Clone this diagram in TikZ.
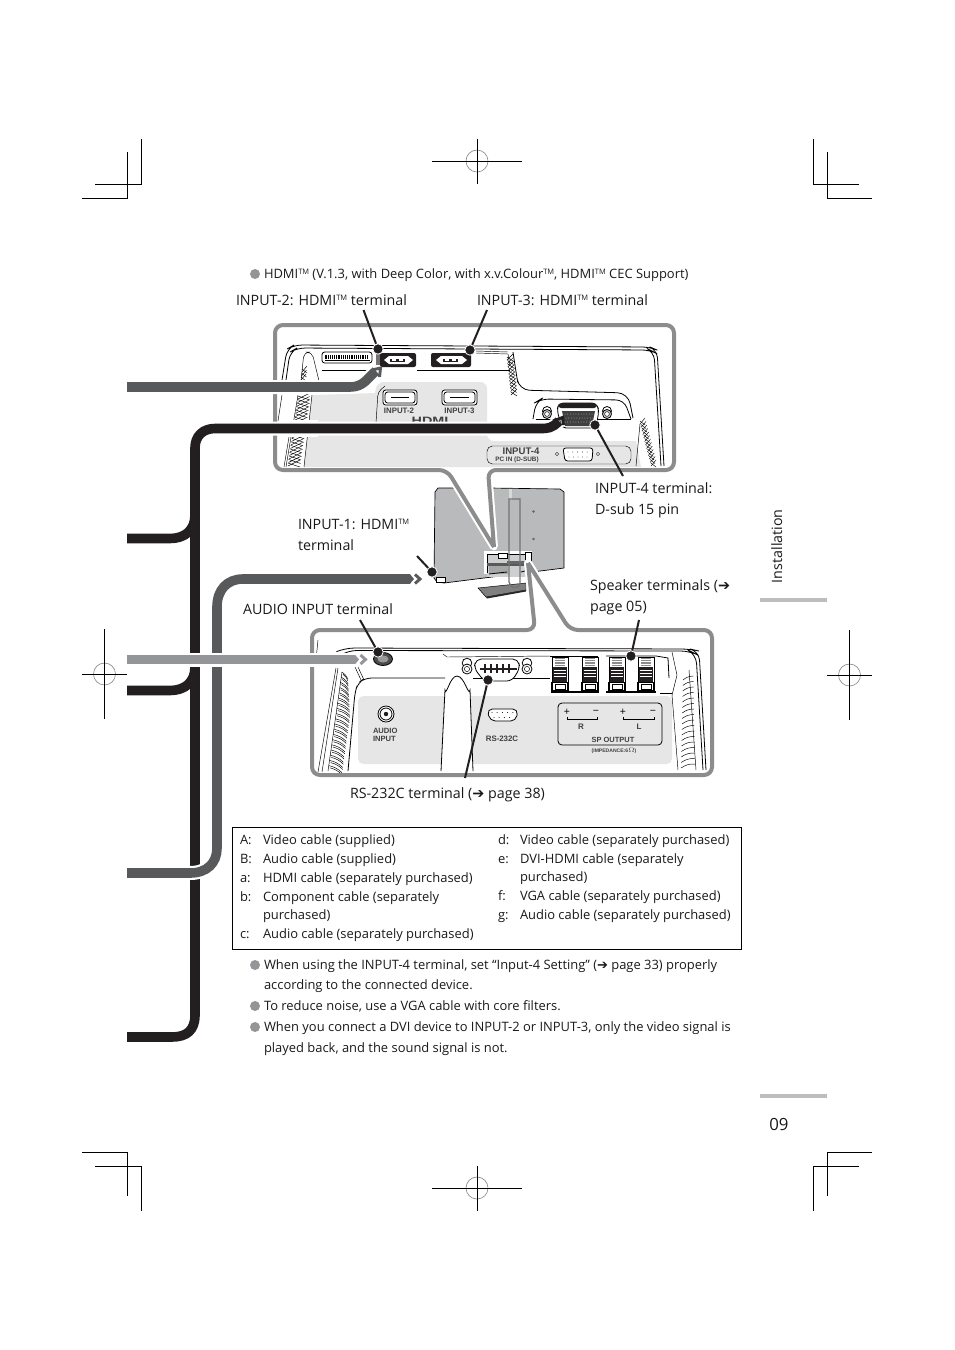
\documentclass[tikz,border=0pt]{standalone}
\usepackage{fontspec}
\setmainfont{Open Sans}
\newfontfamily\djv{DejaVu Sans}
\newfontfamily\panelfont{Liberation Sans}
\usetikzlibrary{calc}
\definecolor{cblack}{HTML}{231F20}
\definecolor{cdark}{HTML}{58595B}
\definecolor{clight}{HTML}{939598}
\definecolor{cframe}{HTML}{8C8C8C}
\definecolor{cpanel}{HTML}{E6E6E6}
\definecolor{ctv}{HTML}{B9BABC}
\definecolor{ctab}{HTML}{BCBDBF}
\newcommand{\TMk}{\raisebox{0.62ex}{\fontsize{5.6}{6}\selectfont TM}}
\newcommand{\Rarr}{{\djv\fontsize{10.8}{10}\selectfont ➔}}
\newcommand{\Rarrb}{{\djv\fontsize{9.8}{10}\selectfont ➔}}
\tikzset{
  x=0.75pt,y=-0.75pt,
  crop/.style={draw=black,line width=0.75pt},
  regc/.style={draw=black!45,line width=0.5pt},
  lab/.style={anchor=base west,inner sep=0pt,outer sep=0pt,font=\fontsize{10.7}{12}\selectfont,text=black!90},
  body/.style={anchor=base west,inner sep=0pt,outer sep=0pt,font=\fontsize{9.7}{12}\selectfont,text=black!90},
  ptxt/.style={anchor=base,inner sep=0pt,outer sep=0pt,font=\panelfont\bfseries\fontsize{5.9}{6}\selectfont,text=black!75},
  halo/.style={draw=white,line width=10.5pt,line join=round},
  cablew/.style={line width=7.2pt,line join=round},
  frameline/.style={draw=cframe,line width=3pt,rounded corners=6pt,line join=round},
  framehalo/.style={draw=white,line width=6pt,line join=round},
  leader/.style={draw=cblack,line width=1.5pt},
  ldot/.style={circle,fill=cblack,draw=white,line width=0.6pt,minimum size=7.8pt,inner sep=0pt},
  thin line/.style={draw=black,line width=0.6pt},
  fine/.style={draw=black,line width=0.35pt},
  bul/.style={circle,fill=clight,minimum size=7.5pt,inner sep=0pt},
  chev/.style={line width=2.2pt,line join=miter},
}
\newcommand{\hatchband}[6]{% x1 y1 x2 y2 n width
  \foreach \t in {0,...,#5}{
    \pgfmathsetmacro{\hx}{#1+(#3-#1)*\t/#5}
    \pgfmathsetmacro{\hy}{#2+(#4-#2)*\t/#5}
    \draw[fine] (\hx,\hy) -- ++(#6,-6);
    \draw[fine] (\hx,\hy-3) -- ++(#6,4);
  }
}
\newcommand{\term}[1]{% speaker terminal centred x
  \draw[fine,fill=white] (#1-8,657) rectangle (#1+8,691);
  \fill[black!45] (#1-5,658) rectangle (#1+5,667);
  \foreach \dy in {0,...,3}{\draw[white,line width=0.4pt] (#1-5,659.5+2.2*\dy) -- (#1+5,659.5+2.2*\dy);}
  \fill[cblack] (#1-7,667) rectangle (#1+7,682);
  \foreach \dy in {0,...,2}{\draw[white,line width=0.4pt] (#1-6,670+3.2*\dy) -- (#1+6,670+3.2*\dy);}
  \draw[black,line width=0.9pt,fill=white] (#1-8,682.5) rectangle (#1+8,691);
  \draw[thin line,fill=white] (#1-5,684.5) rectangle (#1+5,689);
}
\begin{document}
\begin{tikzpicture}
\useasboundingbox (0,0) rectangle (954,1350);
% ---- crop marks
\draw[crop] (141,139) -- (141,184) -- (95,184);
\draw[crop] (127,152) -- (127,198) -- (82,198);
\draw[crop] (813,139) -- (813,184) -- (859,184);
\draw[crop] (827,152) -- (827,198) -- (872,198);
\draw[crop] (82,1152) -- (127,1152) -- (127,1196);
\draw[crop] (95,1166) -- (141,1166) -- (141,1211);
\draw[crop] (813,1211) -- (813,1166) -- (859,1166);
\draw[crop] (827,1196) -- (827,1152) -- (872,1152);
\foreach \cx/\cy/\hl/\vl in {477/161/45/22.5,477/1188/45/22.5,104.5/674/22.5/45,849.5/675/22.5/45}{
  \draw[regc] (\cx,\cy) circle (11);
  \draw[crop] (\cx-\hl,\cy) -- (\cx+\hl,\cy);
  \draw[crop] (\cx,\cy-\vl) -- (\cx,\cy+\vl);
}
% ---- side tab
\fill[ctab] (760,598) rectangle (827,601.5);
\fill[ctab] (760,1094) rectangle (827,1097.5);
\node[lab,rotate=90] (tabtext) at (782,583) {Installation};
\node[anchor=base west,inner sep=0pt,font=\fontsize{12.6}{14}\selectfont,text=black!90] (pagenum) at (769,1130) {09};
% ---- television
\fill[ctv,draw=black,line width=0.5pt] (435,492) -- (438,488) -- (453,488) -- (490,488) -- (560,489) -- (564,492) -- (564,568) -- (444,583) -- (437,582) -- (434,578) -- cycle;
\draw[fine,fill=white] (436,577) rectangle (445,582);
\fill[black!60] (533.5,511.5) circle (1.3);
\fill[black!60] (533.5,539) circle (1.3);
\fill[black!15] (509,489) rectangle (512,500);
% rear recess
\fill[ctv!70] (487,553) rectangle (531,577);
\fill[white] (483.5,550.5) rectangle (532,553.5);
\fill[white] (483.5,550.5) rectangle (486.5,574);
\draw[thin line] (487,554) -- (487,573);
\draw[thin line] (487,554) -- (530,554);
\fill[black!65] (487,563) rectangle (525,566);
\fill[black!35] (489,566) rectangle (508,574);
\draw[thin line] (489,574) -- (507,572);
\draw[fine,fill=white] (498,553.5) rectangle (507,558);
\draw[thin line,fill=white] (525,552) rectangle (531.5,562);
\fill[black!60] (507,561) rectangle (528,564);
\draw[thin line] (521,572) -- (529,570);
% stand base
\draw[fine,fill=black!50] (478,588) -- (526,583) -- (526,590) -- (486,597) -- cycle;
\fill[black!85] (486,597) -- (526,590) -- (526,591.5) -- (487,598.5) -- cycle;
% stand neck
\draw[draw=black!55,line width=1pt] (509,499) -- (520,499) -- (520,583) .. controls (520,588) and (514,589) .. (511,586) -- (509,582) -- cycle;
% ---- frames' white fill
\coordinate (tapex) at (494,547);
\coordinate (bapex) at (528,563);
\path[fill=white,draw=white,line width=5pt,line join=round] (tapex) -- (488,470) -- (674,470) -- (674,325) -- (275,325) -- (275,470) -- (447,470) -- cycle;
\path[fill=white,draw=white,line width=5pt,line join=round] (bapex) -- (535,630) -- (312,630) -- (312,775) -- (712,775) -- (712,630) -- (570,630) -- cycle;
% panel grey
\fill[cpanel] (304,467) -- (312,395) -- (375,393) [rounded corners=5pt] -- (377,382) -- (487,382) -- (487,441)[sharp corners] -- (636,441) -- (641,467) -- cycle;
% outer lines
\draw[thin line,rounded corners=6pt] (282,380) -- (287,349) -- (294,345) -- (650,347) -- (657,350) -- (664,466);
\draw[thin line,rounded corners=6pt] (286,380) -- (290,352) -- (297,348) -- (650,350) -- (654,352) -- (661,466);
\draw[fine] (278,421) -- (282,395);
\draw[fine] (284,467) -- (289,437);
\draw[thin line] (322,370.5) -- (376,370.5);
\draw[thin line] (417,370.5) -- (510,370.5);
\draw[fine,rounded corners=4pt] (301,381) -- (304,352) -- (312,352) -- (319,381);
\hatchband{302}{372}{301}{380}{2}{5}
% left hatch
\draw[fine] (298,395) -- (286,467);
\draw[fine] (312,395) -- (304,467);
\hatchband{298}{399}{288}{466}{19}{12}
\fill[white] (285,420) rectangle (318,437);
% top connectors
\draw[thin line,fill=white,rounded corners=2pt] (322,352) rectangle (372,363);
\foreach \i in {0,...,23}{\draw[black,line width=0.6pt] (325+\i*1.85,355) -- (325+\i*1.85,359);}
\draw[fine] (325,360.5) -- (370,360.5);
\fill[black!55] (376,353) rectangle (381,365);
\fill[cblack,rounded corners=1.5pt] (380,353) rectangle (416,367);
\fill[white] (384,360) -- (389,356) -- (408,356) -- (413,360) -- (408,364) -- (389,364) -- cycle;
\fill[cblack] (390,358.5) rectangle (405,361.5);
\fill[white] (392,359.3) rectangle (396,360.8);
\fill[white] (399,359.3) rectangle (403,360.8);
\fill[cblack,rounded corners=1.5pt] (431,353) rectangle (471,367);
\fill[white] (436,360) -- (441,356) -- (462,356) -- (467,360) -- (462,364) -- (441,364) -- cycle;
\fill[cblack] (443,358.5) rectangle (458,361.5);
\fill[white] (445,359.3) rectangle (449,360.8);
\fill[white] (452,359.3) rectangle (456,360.8);
% right of top connectors
\draw[fine] (476,351) -- (508,352);
\draw[fine] (476,353) -- (508,354) -- (510,366);
\hatchband{507}{360}{511}{395}{10}{6}
\draw[thin line,rounded corners=8pt] (513,352) -- (516,372) -- (519,390) -- (628,393) -- (633,418);
\draw[thin line,rounded corners=6pt] (533,419) -- (536,402) -- (541,399) -- (624,400) -- (631,419);
\draw[thin line] (536,419) -- (631,419);
% hdmi labels
\draw[thin line,fill=white,rounded corners=2pt] (383,390) rectangle (417,405);
\draw[thin line,rounded corners=2pt] (385,392) rectangle (415,403);
\draw[thin line] (391,397.5) -- (409,397.5);
\draw[thin line,fill=white,rounded corners=2pt] (442,390) rectangle (477,405);
\draw[thin line,rounded corners=2pt] (444,392) rectangle (475,403);
\draw[thin line] (450,397.5) -- (469,397.5);
\node[ptxt] (ilab2) at (399,413) {INPUT-2};
\node[ptxt] (ilab3) at (459.5,413) {INPUT-3};
\node[ptxt,font=\panelfont\bfseries\fontsize{8}{8}\selectfont,xscale=1.35] (hdmilogo) at (430,424.5) {HDMI};
\draw[fine,rounded corners=3pt] (376,423) -- (378,392) -- (385,386);
% VGA
\draw[thin line,fill=white,rounded corners=3pt] (557,410) -- (559,403) -- (596,403) -- (599,410) -- (596,428) -- (562,428) -- cycle;
\fill[cblack,rounded corners=3pt] (559,403) -- (596,403) -- (598,408) -- (557,408) -- cycle;
\fill[black!75] (562,411) -- (595,411) -- (592,426) -- (565,426) -- cycle;
\foreach \i in {0,...,10}{\fill[black!35] (565+\i*2.7,414) circle (0.5);\fill[black!35] (566+\i*2.7,418) circle (0.5);\fill[black!35] (565+\i*2.7,422) circle (0.5);}
\foreach \sx in {547,607}{
  \draw[thin line,fill=white] (\sx,411) circle (4.5);
  \draw[thin line,fill=black!20] (\sx,414) circle (4.5);
  \draw[fine,fill=white] (\sx,414) circle (2.4);
}
% input-4 label
\draw[fine,rounded corners=4pt] (487,446) rectangle (631,464);
\node[ptxt,font=\panelfont\bfseries\fontsize{7.2}{7}\selectfont] (ilab4) at (521,454) {INPUT-4};
\node[ptxt,font=\panelfont\bfseries\fontsize{4.8}{5}\selectfont] (ilab4b) at (517,461.5) {PC IN (D-SUB)};
\draw[thin line,fill=white,rounded corners=2pt] (563,448) -- (593,448) -- (592,461) -- (565,461) -- cycle;
\foreach \i in {0,...,4}{\fill (568+\i*4.8,452) circle (0.45);\fill (569+\i*4.5,457) circle (0.45);}
\draw[fine,fill=white] (557,454) circle (1.6);
\draw[fine,fill=white] (598,454) circle (1.6);
% right hatch
\hatchband{640}{424}{651}{466}{12}{5}
\draw[fine] (640,424) -- (636,466);
% ---- bottom panel
\fill[cpanel,rounded corners=4pt] (358,696) rectangle (672,764);
\draw[fill=white,draw=none] (441,772) -- (445,690) to[out=-80,in=180] (457,676) to[out=0,in=-100] (470,690) -- (473,772) -- cycle;
\draw[thin line,rounded corners=7pt] (338,651) -- (345,648) -- (690,649) -- (699,651) -- (706,770);
\draw[thin line,rounded corners=7pt] (342,654) -- (347,650.5) -- (690,651) -- (696,654) -- (703,770);
\draw[fine] (318,640) -- (316,660);
% left double lines
\draw[fine] (336,668) -- (318,772);
\draw[fine] (338,668) -- (322,772);
% left curved hatch
\foreach \i in {0,...,18}{
  \pgfmathsetmacro{\hy}{672+\i*5.2}
  \pgfmathsetmacro{\xl}{342-(\hy-672)*0.14}
  \pgfmathsetmacro{\w}{min(13,6+\i)}
  \draw[fine] (\xl,\hy) to[bend left=15] (\xl+\w,\hy+7);
  \draw[fine] (\xl+1,\hy+2.2) to[bend left=15] (\xl+\w,\hy+9);
}
\draw[fine] (342,672) -- (328,771);
\draw[fine] (358,667) -- (364,680);
\draw[fine] (355,667) -- (361,680);
\draw[thin line,rounded corners=5pt] (445,678) -- (365,678) -- (358,683) -- (355,692) -- (348,771);
\draw[thin line] (441,771) -- (445,690) to[out=-80,in=180] (457,676) to[out=0,in=-100] (470,690) -- (473,771);
\draw[fine] (443,654) -- (447,657) -- (550,656);
\draw[thin line] (473,678) -- (550,678);
% right hatch
\foreach \i in {0,...,16}{
  \draw[fine] (681+\i*0.12,768-\i*5.5) to[bend left=18] (695-\i*0.1,764-\i*5.5);
}
\draw[fine] (678,770) -- (672,695) -- (677,675) -- (672,652);
\draw[fine] (696,770) -- (689,670);
\draw[fine] (660,693) -- (672,693);
% audio jack
\draw[thin line,fill=black!70] (383,659) ellipse (9.5 and 6.5);
\fill[black!40] (383,659) ellipse (5.5 and 3.5);
% audio label
\draw[thin line,fill=white] (386,714) circle (8);
\draw[thin line,fill=white] (386,714) circle (6);
\fill[cblack] (386,714) circle (2.2);
\node[ptxt,anchor=base west,font=\panelfont\bfseries\fontsize{5.7}{6}\selectfont] (alab1) at (373,733) {AUDIO};
\node[ptxt,anchor=base west,font=\panelfont\bfseries\fontsize{5.7}{6}\selectfont] (alab2) at (373,741) {INPUT};
% rs232
\draw[thin line,fill=white,rounded corners=4pt] (487,709) -- (518,709) -- (516,721) -- (490,721) -- cycle;
\foreach \i in {0,...,4}{\fill (492+\i*5.2,712.5) circle (0.5);}
\foreach \i in {0,...,3}{\fill (494+\i*5.2,717.5) circle (0.5);}
\node[ptxt] (rslab) at (502,741.5) {RS-232C};
\draw[thin line,fill=white,rounded corners=4pt] (476,659) -- (518,659) -- (520,668) -- (512,681) -- (484,681) -- (474,668) -- cycle;
\foreach \i in {0,...,4}{\draw[cblack,line width=1.8pt] (485+\i*6,664) -- (485+\i*6,673);}
\draw[cblack,line width=1.6pt] (480,669) -- (517,669);
\foreach \sx in {467,527}{
  \draw[thin line,fill=white] (\sx,663) circle (4.8);
  \draw[thin line,fill=white] (\sx,669) circle (5);
  \draw[fine,fill=white] (\sx,669) circle (2.6);
}
% speaker terminals
\term{560}\term{590}\term{617}\term{646}
\draw[thin line] (550,656) -- (598,656);
\draw[thin line] (606,656) -- (656,656) -- (668,658) -- (669,678);
\draw[black,line width=0.9pt] (551,692) -- (599,692);
\draw[black,line width=0.9pt] (606,692) -- (656,692);
% SP box
\draw[thin line,rounded corners=3pt] (558,703) rectangle (662,745);
\node[anchor=center,inner sep=0pt,font=\fontsize{8}{8}\selectfont] (plusr) at (567,712) {+};
\node[anchor=center,inner sep=0pt,font=\fontsize{8}{8}\selectfont] (minusr) at (596,712) {−};
\node[anchor=center,inner sep=0pt,font=\fontsize{8}{8}\selectfont] (plusl) at (623,712) {+};
\node[anchor=center,inner sep=0pt,font=\fontsize{8}{8}\selectfont] (minusl) at (653,712) {−};
\draw[fine] (567,717) -- (567,719) -- (597,719) -- (597,717);
\draw[fine] (623,717) -- (623,719) -- (654,719) -- (654,717);
\node[ptxt,font=\panelfont\bfseries\fontsize{6}{6}\selectfont] (rlab) at (581,729) {R};
\node[ptxt,font=\panelfont\bfseries\fontsize{6}{6}\selectfont] (llab) at (639,729) {L};
\node[ptxt,font=\panelfont\bfseries\fontsize{5.6}{6}\selectfont] (splab) at (613,742) {SP OUTPUT};
\node[ptxt,font=\panelfont\bfseries\fontsize{3.8}{4}\selectfont] (implab) at (614,752) {(IMPEDANCE:6$\Omega$)};
% ---- frame strokes
\draw[framehalo] (447,470) -- (tapex);
\draw[framehalo] (488,470) -- (tapex);
\draw[frameline] (tapex) -- (488,470) -- (674,470) -- (674,325) -- (275,325) -- (275,470) -- (447,470) [sharp corners] -- (tapex);
\draw[framehalo] (535,630) -- (bapex) -- (570,630);
\draw[frameline] (bapex) -- (535,630) -- (312,630) -- (312,775) -- (712,775) -- (712,630) -- (570,630) [sharp corners] -- (bapex);
% ---- cables
\coordinate (c1a) at (127,387);\coordinate (c1b) at (376,371);
\coordinate (c2a) at (127,538.5);\coordinate (c2b) at (127,690.5);\coordinate (c2c) at (127,1037);\coordinate (c2d) at (559,421);
\coordinate (c3a) at (127,873);\coordinate (c3b) at (410,579);
\coordinate (c4a) at (127,659.5);\coordinate (c4b) at (355,659.5);
% dark grey to input-2
\draw[halo] (c1a) -- (350,387) .. controls (364,387) and (367,378) .. (c1b);
\draw[cablew,draw=cdark] (c1a) -- (350,387) .. controls (364,387) and (367,378) .. (c1b);
\draw[chev,draw=cdark] (372,370) -- (380.5,368) -- (379.5,377);
% black tree
\draw[halo] (c2d) .. controls (552,428.5) and (548,428.5) .. (540,428.5) -- (215,428.5) .. controls (203,428.5) and (195,436) .. (195,448) -- (195,1015) .. controls (195,1030) and (187,1037) .. (172,1037) -- (c2c);
\draw[cablew,draw=cblack] (c2a) -- (170,538.5) .. controls (185,538.5) and (195,530) .. (195,515);
\draw[cablew,draw=cblack] (c2b) -- (170,690.5) .. controls (185,690.5) and (195,682) .. (195,667);
\draw[cablew,draw=cblack] (c2d) .. controls (552,428.5) and (548,428.5) .. (540,428.5) -- (215,428.5) .. controls (203,428.5) and (195,436) .. (195,448) -- (195,1015) .. controls (195,1030) and (187,1037) .. (172,1037) -- (c2c);
\draw[chev,draw=cblack] (553,421) -- (562.5,417.5) -- (563.5,425);
% dark grey to input-1
\draw[halo] (c3a) -- (190,873) .. controls (207,873) and (217,863) .. (217,848) -- (217,607) .. controls (217,590) and (227,579) .. (243,579) -- (c3b);
\draw[cablew,draw=cdark] (c3a) -- (190,873) .. controls (207,873) and (217,863) .. (217,848) -- (217,607) .. controls (217,590) and (227,579) .. (243,579) -- (c3b);
\fill[cdark] (c3b) ++(0,-4.8) -- ++(4,4.8) -- ++(-4,4.8) -- cycle;
\draw[chev,draw=cdark] (415,574.5) -- (420,579) -- (415,583.5);
% light grey to audio
\draw[halo] (c4a) -- (c4b);
\draw[cablew,draw=clight] (c4a) -- (c4b);
\fill[clight] (c4b) ++(0,-4.8) -- ++(4,4.8) -- ++(-4,4.8) -- cycle;
\draw[chev,draw=clight] (360.5,655) -- (365.5,659.5) -- (360.5,664);
% ---- leader lines
\node[ldot] (d2) at (378,349) {};
\node[ldot] (d3) at (470,350) {};
\node[ldot] (d4) at (595,425) {};
\node[ldot] (d1) at (432,572) {};
\node[ldot] (da) at (378,652) {};
\node[ldot] (dr) at (488,680) {};
\node[ldot] (ds) at (631,656) {};
\coordinate (e2) at (363.5,310);\coordinate (e3) at (487,310);\coordinate (e4) at (623,476);
\coordinate (e1) at (417,556);\coordinate (ea) at (360,620);\coordinate (er) at (465,778);\coordinate (es) at (639,620);
\foreach \a/\b in {d2/e2,d3/e3,d4/e4,d1/e1,da/ea,dr/er,ds/es}{\draw[leader] (\a) -- (\b);}
% ---- callouts
\node[bul] (btop) at (255,274) {};
\node[body] (hdminote) at (264,278.5) {HDMI\TMk{} (V.1.3, with Deep Color, with x.v.Colour\TMk, HDMI\TMk{} CEC Support)};
\node[lab] (l2) at (236,305.5) {INPUT-2: HDMI\TMk{} terminal};
\node[lab] (l3) at (477,305.5) {INPUT-3: HDMI\TMk{} terminal};
\node[lab] (l4a) at (595,493.5) {INPUT-4 terminal:};
\node[lab] (l4b) at (595,514.5) {D-sub 15 pin};
\node[lab] (l1a) at (298,529.5) {INPUT-1: HDMI\TMk};
\node[lab] (l1b) at (298,550.5) {terminal};
\node[lab] (la) at (243,614.5) {AUDIO INPUT terminal};
\node[lab] (lsa) at (590,590.5) {Speaker terminals (\Rarr};
\node[lab] (lsb) at (590,611.5) {page 05)};
\node[lab] (lr) at (350,798.5) {RS-232C terminal (\Rarr{} page 38)};
% ---- legend
\draw[thin line] (232,827) rectangle (741,949);
\foreach \nm/\lb/\tx/\yy in {
  ka/A:/{Video cable (supplied)}/844.5,
  kb/B:/{Audio cable (supplied)}/863.5,
  kc/a:/{HDMI cable (separately purchased)}/882.5,
  kd/b:/{Component cable (separately}/901.5,
  ke//{purchased)}/919.5,
  kf/c:/{Audio cable (separately purchased)}/938.5}{
  \node[body] (\nm l) at (240,\yy) {\lb};
  \node[body] (\nm t) at (263,\yy) {\tx};
}
\foreach \nm/\lb/\tx/\yy in {
  ma/d:/{Video cable (separately purchased)}/844.5,
  mb/e:/{DVI-HDMI cable (separately}/863.5,
  mc//{purchased)}/881.5,
  md/f:/{VGA cable (separately purchased)}/900.5,
  me/g:/{Audio cable (separately purchased)}/919.5}{
  \node[body] (\nm l) at (498,\yy) {\lb};
  \node[body] (\nm t) at (520,\yy) {\tx};
}
% ---- notes
\node[bul] (b1) at (255,965) {};
\node[bul] (b2) at (255,1006) {};
\node[bul] (b3) at (255,1027) {};
\node[body] (n1) at (264,969.5) {When using the INPUT-4 terminal, set “Input-4 Setting” (\Rarrb{} page 33) properly};
\node[body] (n1b) at (264,989.5) {according to the connected device.};
\node[body] (n2) at (264,1010.5) {To reduce noise, use a VGA cable with core filters.};
\node[body] (n3) at (264,1031.5) {When you connect a DVI device to INPUT-2 or INPUT-3, only the video signal is};
\node[body] (n3b) at (264,1052.5) {played back, and the sound signal is not.};
\end{tikzpicture}
\end{document}
